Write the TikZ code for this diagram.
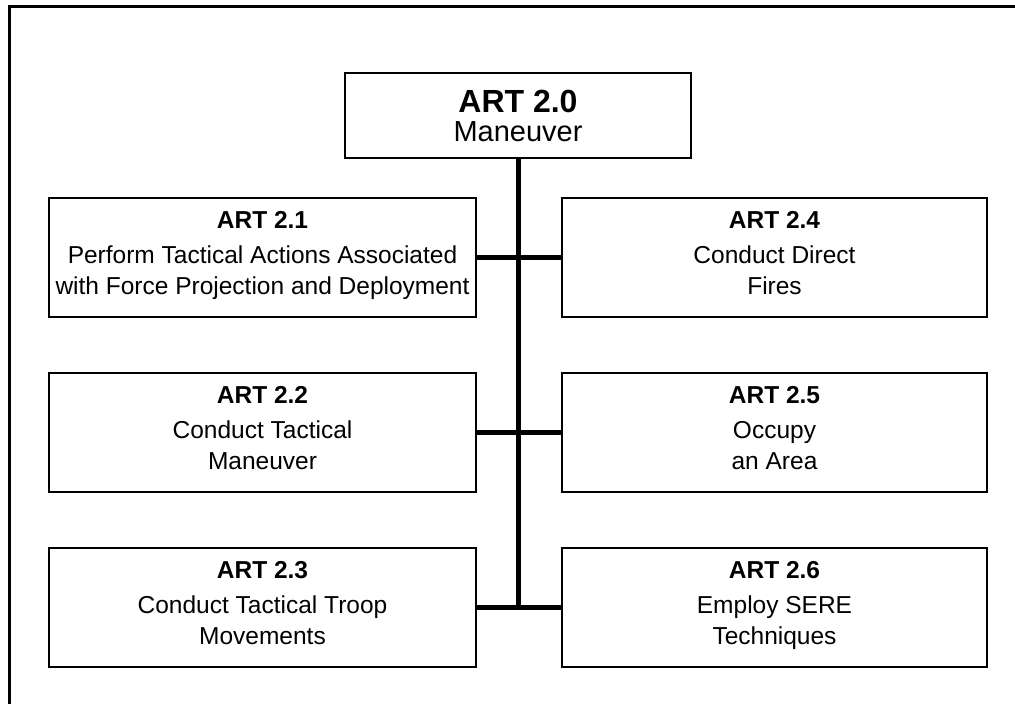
\documentclass[tikz,border=0pt]{standalone}
\usepackage{fontspec}
\setmainfont{Liberation Sans}
\usepackage{tikz}

\begin{document}
\begin{tikzpicture}[x=1pt,y=-1pt,
    frame/.style = {line width=3pt},
    task/.style = {draw, line width=1.8pt, minimum width=427pt, minimum height=119pt,
      inner sep=0pt, align=center, font=\fontsize{24.5}{31}\selectfont,
      execute at begin node=\rule{0pt}{35pt}, execute at end node=\strut},
    head/.style = {draw, line width=1.8pt, minimum width=346pt, minimum height=85pt,
      inner sep=0pt, align=center, font=\fontsize{29}{30}\selectfont},
    link/.style = {line width=5pt}]
      \useasboundingbox (0,0) rectangle (1015,704);
      \draw[frame] (9,704) -- (9,6) -- (1015,6);

      \node[head] at (518,115.5) (art20){{\fontsize{32}{32}\selectfont\bfseries ART 2.0}\\[-1pt]Maneuver};
      \node[task] at (262.5,257.5) (art21){\textbf{ART 2.1}\\[4pt]Perform Tactical Actions Associated\\with Force Projection and Deployment};
      \node[task] at (262.5,432.5) (art22){\textbf{ART 2.2}\\[4pt]Conduct Tactical\\Maneuver};
      \node[task] at (262.5,607.5) (art23){\textbf{ART 2.3}\\[4pt]Conduct Tactical Troop\\Movements};
      \node[task, minimum width=425pt] at (774.5,257.5) (art24){\textbf{ART 2.4}\\[4pt]Conduct Direct\\Fires};
      \node[task, minimum width=425pt] at (774.5,432.5) (art25){\textbf{ART 2.5}\\[4pt]Occupy\\an Area};
      \node[task, minimum width=425pt] at (774.5,607.5) (art26){\textbf{ART 2.6}\\[4pt]Employ SERE\\Techniques};
      \coordinate (trunk) at (art20.south |- art23.east);

      \path[link]
      (art20.south) edge (trunk)
      (art21.east) edge (art24.west)
      (art22.east) edge (art25.west)
      (art23.east) edge (art26.west)
      ;
    \end{tikzpicture}
\end{document}
